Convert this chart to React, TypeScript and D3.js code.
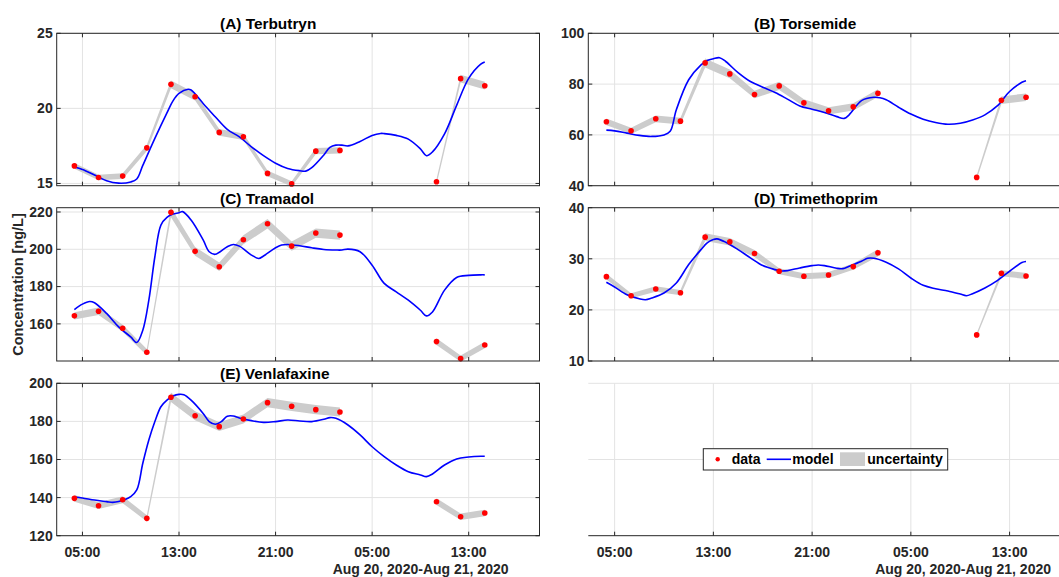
import React from 'react';
import * as d3 from 'd3';

// ---------- DATA ----------
const sampleTimes = [
  '2020-08-20 04:20', '2020-08-20 06:20', '2020-08-20 08:20', '2020-08-20 10:20',
  '2020-08-20 12:20', '2020-08-20 14:20', '2020-08-20 16:20', '2020-08-20 18:20',
  '2020-08-20 20:20', '2020-08-20 22:20', '2020-08-21 00:20', '2020-08-21 02:20',
  '2020-08-21 10:20', '2020-08-21 12:20', '2020-08-21 14:20',
];

const dataA = [16.17, 15.4, 15.49, 17.37, 21.6, 20.77, 18.4, 18.11, 15.67, 14.97, 17.15, 17.2, 15.11, 21.98, 21.51];
const dataB = [65.15, 61.61, 66.33, 65.41, 88.34, 84.02, 75.9, 79.3, 72.62, 69.47, 71.05, 76.42, 43.27, 73.67, 74.85];
const dataC = [164.3, 166.8, 157.7, 144.8, 219.8, 198.9, 190.6, 205.1, 213.7, 201.7, 208.7, 207.6, 150.5, 141.4, 148.7];
const dataD = [26.51, 22.78, 24.09, 23.37, 34.24, 33.32, 31.03, 27.56, 26.58, 26.84, 28.47, 31.16, 15.11, 27.16, 26.64];
const dataE = [139.6, 135.75, 138.9, 129.1, 192.65, 183.0, 177.24, 181.27, 189.85, 187.92, 186.17, 184.95, 137.85, 129.98, 131.9];

// relative uncertainty (fraction of value) per compound
const uncertaintyA = 0.012;
const uncertaintyB = 0.02;
const uncertaintyC = 0.012;
const uncertaintyD = 0.022;
const uncertaintyE = 0.013;

// model output: hours since 2020-08-20 00:00, and concentration
const modelHoursA = [4.33, 5, 6, 7, 8, 9, 9.5, 10, 11, 12, 12.5, 13, 13.75, 14, 15, 16, 17, 18, 19, 20, 21, 22, 23, 23.5, 24, 25, 25.5, 26, 26.5, 27, 28, 29, 29.7, 30, 31, 32, 33, 33.5, 34, 35, 36, 37, 38, 38.33];
const modelA = [16.1, 15.93, 15.56, 15.18, 15.02, 15.1, 15.3, 16.2, 18.0, 19.7, 20.5, 21.0, 21.27, 21.22, 20.33, 19.44, 18.6, 18.1, 17.44, 16.85, 16.35, 16.0, 15.85, 15.82, 16.05, 16.9, 17.4, 17.55, 17.55, 17.5, 17.8, 18.2, 18.33, 18.32, 18.2, 17.95, 17.3, 16.85, 17.1, 18.3, 20.2, 22.0, 22.95, 23.09];

const modelHoursB = [4.33, 5, 6, 7, 8, 9, 9.5, 10, 11, 12, 12.5, 13, 13.5, 14, 15, 16, 17, 18, 19, 20, 21, 22, 23, 23.6, 24, 25, 26, 26.5, 27, 28, 29, 30, 31, 32, 33, 34, 35, 36, 37, 38, 38.33];
const modelB = [61.88, 61.6, 60.7, 59.8, 59.4, 60.0, 61.4, 69.9, 81.7, 87.6, 89.3, 90.0, 90.4, 88.9, 84.5, 81.0, 78.8, 76.7, 74.1, 71.4, 70.1, 68.8, 67.2, 66.5, 67.9, 73.5, 74.8, 74.6, 73.8, 70.9, 68.2, 66.2, 64.9, 64.2, 64.6, 65.9, 67.9, 71.4, 77.1, 80.7, 81.3];

const modelHoursC = [4.33, 5, 5.6, 6, 7, 8, 9, 9.5, 10, 10.5, 11, 11.5, 12, 12.5, 13, 13.3, 14, 15, 15.5, 16, 17, 17.5, 18, 19, 19.6, 20, 21, 21.5, 22, 23, 24, 25, 26, 26.5, 27, 28, 29, 30, 31, 32, 33, 33.5, 34, 35, 36, 37, 38, 38.33];
const modelC = [167.7, 170.6, 172.0, 171.3, 165.6, 158.4, 153.0, 150.0, 156.6, 172.7, 196.0, 213.0, 217.1, 218.9, 219.6, 220.2, 215.7, 205.0, 198.7, 197.3, 201.4, 202.6, 201.7, 196.9, 195.1, 196.4, 200.8, 202.3, 202.6, 201.9, 200.8, 199.9, 199.6, 199.6, 200.1, 198.7, 191.5, 181.7, 177.2, 172.7, 167.3, 164.3, 166.4, 178.1, 184.9, 186.0, 186.3, 186.3];

const modelHoursD = [4.33, 5, 6, 7, 7.5, 8, 9, 10, 11, 12, 12.5, 13, 13.3, 14, 15, 16, 17, 18, 18.5, 19, 20, 21, 21.5, 22, 23, 23.5, 24, 25, 25.5, 26, 27, 28, 29, 30, 31, 32, 33, 33.5, 34, 35, 36, 37, 38, 38.33];
const modelD = [25.4, 24.48, 22.97, 22.19, 22.0, 22.32, 23.3, 25.27, 28.87, 31.8, 33.12, 33.78, 33.9, 33.25, 31.81, 30.18, 28.67, 27.88, 27.62, 27.69, 28.21, 28.67, 28.8, 28.67, 28.15, 28.08, 28.54, 29.52, 30.1, 30.1, 29.33, 28.02, 26.25, 24.81, 24.15, 23.7, 23.1, 22.78, 23.17, 24.28, 25.72, 27.56, 29.26, 29.46];

const modelHoursE = [4.33, 5, 6, 7, 7.5, 8, 9, 9.5, 10, 10.5, 11, 11.5, 12, 12.5, 13, 13.4, 14, 15, 15.5, 16, 16.5, 17, 17.5, 18, 19, 20, 21, 22, 23, 24, 25, 25.5, 26, 27, 28, 29, 30, 31, 32, 33, 33.5, 34, 35, 36, 37, 38, 38.33];
const modelE = [140.3, 139.8, 138.7, 137.9, 137.5, 137.9, 140.5, 144.0, 158.0, 170.2, 179.9, 187.7, 191.2, 193.3, 194.2, 194.0, 191.2, 184.2, 179.9, 178.5, 179.9, 182.7, 182.8, 181.8, 180.4, 179.5, 179.9, 180.7, 180.2, 179.9, 181.1, 182.0, 181.6, 178.1, 172.9, 166.7, 161.5, 157.1, 153.6, 151.9, 151.0, 152.4, 157.1, 160.3, 161.3, 161.7, 161.7];

const ticksA = [15, 20, 25];
const ticksB = [40, 60, 80, 100];
const ticksC = [160, 180, 200, 220];
const ticksD = [10, 20, 30, 40];
const ticksE = [120, 140, 160, 180, 200];

const xTickHours = [5, 13, 21, 29, 37];
const dateLabel = 'Aug 20, 2020-Aug 21, 2020';
const yLabel = 'Concentration [ng/L]';
const legendLabels = ['data', 'model', 'uncertainty'];

// ---------- LAYOUT ----------
const W = 1059;
const H = 577;
const FONT = "'Liberation Sans', Arial, Helvetica, sans-serif";
const AX = '#262626';
const GRID = '#e3e3e3';
const cols = [[56.7, 539.5], [588.3, 1082]];
const rows = [[33.3, 185.7], [207.7, 361], [383.3, 535.7]];
const titleX = [220, 754];

const parse = d3.timeParse('%Y-%m-%d %H:%M');
const t0 = parse('2020-08-20 00:00') as Date;
const hoursToDate = (h: number) => new Date(t0.getTime() + h * 3600 * 1000);
const xDomain = [hoursToDate(2 + 52 / 60), hoursToDate(42 + 52 / 60)];
const times = sampleTimes.map((s) => parse(s) as Date);
const fmt = d3.timeFormat('%H:%M');

const panels = [
  { title: '(A) Terbutryn', col: 0, row: 0, data: dataA, mh: modelHoursA, mv: modelA, unc: uncertaintyA, yDomain: [14.85, 25], ticks: ticksA },
  { title: '(B) Torsemide', col: 1, row: 0, data: dataB, mh: modelHoursB, mv: modelB, unc: uncertaintyB, yDomain: [40, 100], ticks: ticksB },
  { title: '(C) Tramadol', col: 0, row: 1, data: dataC, mh: modelHoursC, mv: modelC, unc: uncertaintyC, yDomain: [140.1, 222.3], ticks: ticksC },
  { title: '(D) Trimethoprim', col: 1, row: 1, data: dataD, mh: modelHoursD, mv: modelD, unc: uncertaintyD, yDomain: [10, 40], ticks: ticksD },
  { title: '(E) Venlafaxine', col: 0, row: 2, data: dataE, mh: modelHoursE, mv: modelE, unc: uncertaintyE, yDomain: [120, 200], ticks: ticksE },
];

// contiguous groups of samples (break where the gap exceeds 3 h)
const groups: number[][] = [];
times.forEach((t, i) => {
  if (i === 0 || t.getTime() - times[i - 1].getTime() > 3 * 3600 * 1000) groups.push([i]);
  else groups[groups.length - 1].push(i);
});

function XAxisBottom({ x, y1, labels }: { x: d3.ScaleTime<number, number>; y1: number; labels: boolean }) {
  const [, xr] = x.range();
  return (
    <g>
      {labels &&
        xTickHours.map((h) => (
          <text key={h} x={x(hoursToDate(h))} y={y1 + 21} textAnchor="middle" fontSize={14} fontWeight="bold" fill={AX} fontFamily={FONT}>
            {fmt(hoursToDate(h))}
          </text>
        ))}
      {labels && (
        <text x={xr - 31} y={y1 + 38.5} textAnchor="end" fontSize={14} fontWeight="bold" fill={AX} fontFamily={FONT}>
          {dateLabel}
        </text>
      )}
    </g>
  );
}

function Panel({ p }: { p: (typeof panels)[number] }) {
  const [x0, x1] = cols[p.col];
  const [y0, y1] = rows[p.row];
  const x = d3.scaleTime().domain(xDomain).range([x0, x1]);
  const y = d3.scaleLinear().domain(p.yDomain).range([y1, y0]);
  const band = d3
    .area<number>()
    .x((i) => x(times[i]))
    .y0((i) => y(p.data[i] * (1 - p.unc)))
    .y1((i) => y(p.data[i] * (1 + p.unc)));
  const model = d3
    .line<number>()
    .x((_, i) => x(hoursToDate(p.mh[i])))
    .y((v) => y(v))
    .curve(d3.curveCatmullRom.alpha(0.5));
  const showX = p.row === 2;
  return (
    <g>
      {/* grid */}
      {xTickHours.map((h) => (
        <line key={'gx' + h} x1={x(hoursToDate(h))} x2={x(hoursToDate(h))} y1={y0} y2={y1} stroke={GRID} strokeWidth={1} />
      ))}
      {p.ticks.map((t) => (
        <line key={'gy' + t} x1={x0} x2={x1} y1={y(t)} y2={y(t)} stroke={GRID} strokeWidth={1} />
      ))}
      {/* uncertainty */}
      {groups.map((g, k) => (
        <path key={'b' + k} d={band(g) || ''} fill="#cccccc" stroke="none" />
      ))}
      {/* model */}
      <path d={model(p.mv) || ''} fill="none" stroke="#0000ff" strokeWidth={1.6} />
      {/* data */}
      {p.data.map((v, i) => (
        <circle key={'d' + i} cx={x(times[i])} cy={y(v)} r={2.8} fill="#ff0000" />
      ))}
      {/* box */}
      <rect x={x0} y={y0} width={x1 - x0} height={y1 - y0} fill="none" stroke={AX} strokeWidth={1} />
      {/* ticks */}
      {xTickHours.map((h) => (
        <g key={'tx' + h}>
          <line x1={x(hoursToDate(h))} x2={x(hoursToDate(h))} y1={y1} y2={y1 - 4} stroke={AX} />
          <line x1={x(hoursToDate(h))} x2={x(hoursToDate(h))} y1={y0} y2={y0 + 4} stroke={AX} />
        </g>
      ))}
      {p.ticks.map((t) => (
        <g key={'ty' + t}>
          <line x1={x0} x2={x0 + 4} y1={y(t)} y2={y(t)} stroke={AX} />
          <line x1={x1} x2={x1 - 4} y1={y(t)} y2={y(t)} stroke={AX} />
          <text x={x0 - 4} y={y(t)} dy="0.35em" textAnchor="end" fontSize={14} fontWeight="bold" fill={AX} fontFamily={FONT}>
            {t}
          </text>
        </g>
      ))}
      <text x={titleX[p.col]} y={y0 - 4} fontSize={15.4} fontWeight="bold" fill="#000" fontFamily={FONT}>
        {p.title}
      </text>
      <XAxisBottom x={x} y1={y1} labels={showX} />
    </g>
  );
}

function EmptyPanel() {
  const [x0, x1] = cols[1];
  const [y0, y1] = rows[2];
  const x = d3.scaleTime().domain(xDomain).range([x0, x1]);
  const y = d3.scaleLinear().domain([0, 1]).range([y1, y0]);
  const lx = 703.3;
  const ly = 448.7;
  return (
    <g>
      {xTickHours.map((h) => (
        <line key={'gx' + h} x1={x(hoursToDate(h))} x2={x(hoursToDate(h))} y1={y0} y2={y1} stroke={GRID} />
      ))}
      {[0.5, 1].map((t) => (
        <line key={'gy' + t} x1={x0} x2={x1} y1={y(t)} y2={y(t)} stroke={GRID} />
      ))}
      <line x1={x0} x2={x1} y1={y1} y2={y1} stroke={AX} />
      {xTickHours.map((h) => (
        <line key={'tx' + h} x1={x(hoursToDate(h))} x2={x(hoursToDate(h))} y1={y1} y2={y1 - 4} stroke={AX} />
      ))}
      <XAxisBottom x={x} y1={y1} labels={true} />
      {/* legend */}
      <rect x={lx} y={ly} width={244.4} height={21.3} fill="#fff" stroke={AX} strokeWidth={1} />
      <circle cx={717.7} cy={459.3} r={2.2} fill="#ff0000" />
      <text x={731.7} y={459.3} dy="0.35em" fontSize={14} fontWeight="bold" fill="#000" fontFamily={FONT}>
        {legendLabels[0]}
      </text>
      <line x1={766.7} x2={791} y1={459.3} y2={459.3} stroke="#0000ff" strokeWidth={1.6} />
      <text x={792.3} y={459.3} dy="0.35em" fontSize={14} fontWeight="bold" fill="#000" fontFamily={FONT}>
        {legendLabels[1]}
      </text>
      <rect x={840} y={452.3} width={25} height={13.7} fill="#cccccc" />
      <text x={867.3} y={459.3} dy="0.35em" fontSize={14} fontWeight="bold" fill="#000" fontFamily={FONT}>
        {legendLabels[2]}
      </text>
    </g>
  );
}

export default function App() {
  return (
    <svg
      width={W}
      height={H}
      viewBox={`0 0 ${W} ${H}`}
      style={{ position: 'absolute', left: 0, top: 0, background: '#fff' }}
    >
      <rect x={0} y={0} width={W} height={H} fill="#fff" />
      {panels.map((p) => (
        <Panel key={p.title} p={p} />
      ))}
      <EmptyPanel />
      <text
        transform={`translate(22.5, 284.5) rotate(-90)`}
        textAnchor="middle"
        fontSize={14.5}
        fontWeight="bold"
        fill={AX}
        fontFamily={FONT}
      >
        {yLabel}
      </text>
    </svg>
  );
}
